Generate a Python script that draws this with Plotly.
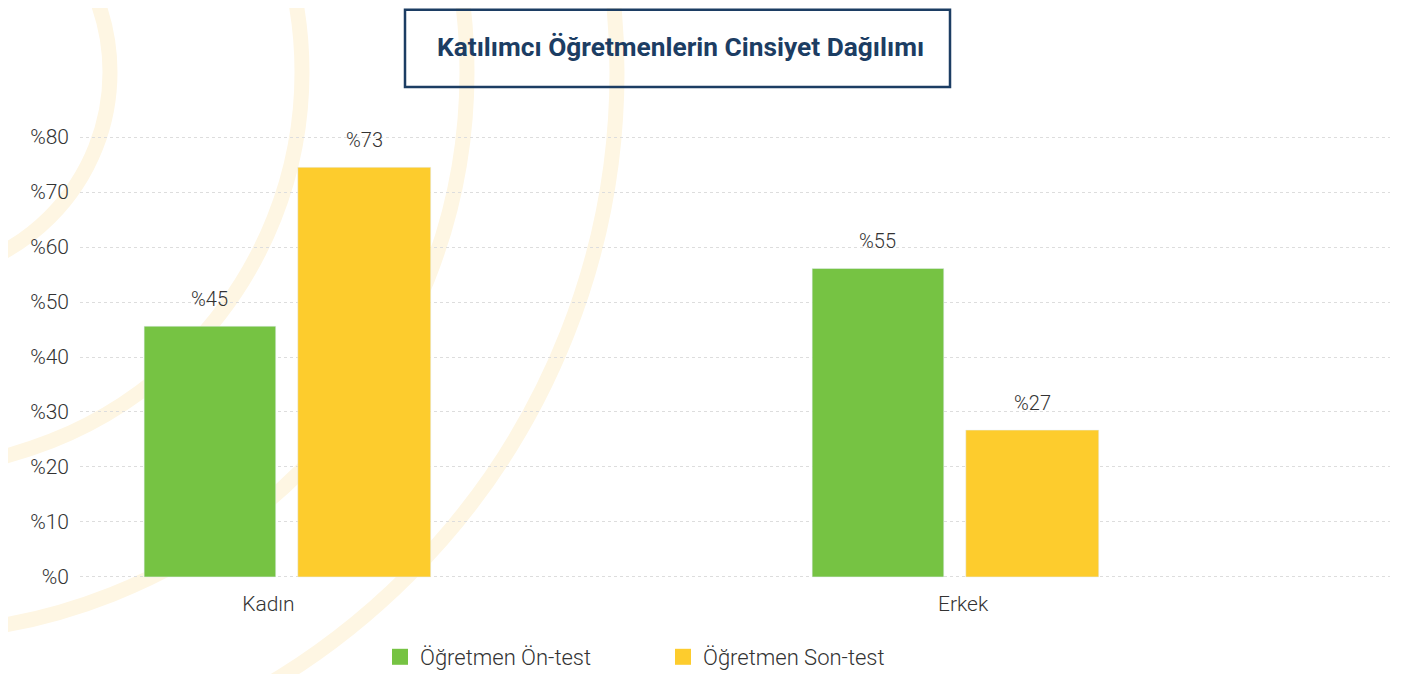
import plotly.graph_objects as go

# ---- data ----
categories = ["Kadın", "Erkek"]
series_names = ["Öğretmen Ön-test", "Öğretmen Son-test"]
on_test = [45.6, 56.1]          # bar heights as drawn
son_test = [74.5, 26.7]
on_labels = ["%45", "%55"]      # printed value labels
son_labels = ["%73", "%27"]
y_ticks = [0, 10, 20, 30, 40, 50, 60, 70, 80]
y_tick_text = ["%" + str(v) for v in y_ticks]
title_text = "Katılımcı Öğretmenlerin Cinsiyet Dağılımı"

GREEN = "#76C343"
YELLOW = "#FDCC2D"
TXT = "#333333"
NAVY = "#1C3D63"
FONT = "Roboto"

W, H = 1426, 674
OFF = 8  # page offset of the figure (body margin)
Y0, Y1 = -0.2, 80.2
# reference screen positions of the plot area
SL, SR, S80, S0 = 80, 1390, 137, 577
unit = (S0 - S80) / 80.0
top_s = S80 - (Y1 - 80) * unit
bot_s = S0 + (0 - Y0) * unit
L = SL - OFF
R = W - (SR - OFF)
T = top_s - OFF
B = H - (bot_s - OFF)
pw, ph = W - L - R, H - T - B


def px(x):
    return (x - OFF - L) / pw


def py(y):
    return (H - B - (y - OFF)) / ph


xpos = list(range(len(categories)))
W_ON, O_ON = 0.197, -0.214
W_SON, O_SON = 0.199, 0.016

fig = go.Figure()
fig.add_trace(go.Bar(x=xpos, y=on_test, name=series_names[0], marker_color=GREEN,
                     width=W_ON, offset=O_ON, showlegend=False, hoverinfo="skip"))
fig.add_trace(go.Bar(x=xpos, y=son_test, name=series_names[1], marker_color=YELLOW,
                     width=W_SON, offset=O_SON, showlegend=False, hoverinfo="skip"))
# legend entries (square swatches)
for nm, col in zip(series_names, [GREEN, YELLOW]):
    fig.add_trace(go.Scatter(x=[None], y=[None], mode="markers", name=nm,
                             marker=dict(symbol="square", size=16, color=col), showlegend=True))

annotations = []
lab_font = dict(size=20, color=TXT, family=FONT, weight=300)
for xs, ys, labs, w, o in [(xpos, on_test, on_labels, W_ON, O_ON),
                            (xpos, son_test, son_labels, W_SON, O_SON)]:
    for x, y, t in zip(xs, ys, labs):
        annotations.append(dict(x=x + o + w / 2, y=y, xref="x", yref="y", text=t,
                                showarrow=False, yanchor="bottom", xanchor="center",
                                yshift=13, font=lab_font))
annotations.append(dict(text="<b>" + title_text + "</b>", xref="paper", yref="paper",
                        x=px(680), y=py(47), xanchor="center", yanchor="middle",
                        showarrow=False, font=dict(size=26.3, color=NAVY, family=FONT)))

# decorative concentric arcs (background)
shapes = []
cx, cy = -95, 72
for r in [205, 397, 562, 712]:
    shapes.append(dict(type="circle", xref="paper", yref="paper",
                       x0=px(cx - r), x1=px(cx + r), y0=py(cy + r), y1=py(cy - r),
                       line=dict(color="#FEF6E3", width=15), layer="below"))
# title box
shapes.append(dict(type="rect", xref="paper", yref="paper",
                   x0=px(405), x1=px(950), y0=py(87), y1=py(9.5),
                   line=dict(color=NAVY, width=2.5), fillcolor="rgba(0,0,0,0)"))

fig.update_layout(
    width=W, height=H,
    margin=dict(l=L, r=R, t=T, b=B, pad=0),
    paper_bgcolor="white", plot_bgcolor="rgba(0,0,0,0)",
    font=dict(family=FONT, color=TXT, size=21),
    showlegend=True,
    legend=dict(orientation="h", xref="container", yref="container",
                x=(380 - OFF) / W, xanchor="left",
                y=1 - (657 - OFF) / H, yanchor="middle",
                font=dict(size=22, family=FONT, color=TXT, weight=300),
                entrywidth=238, entrywidthmode="pixels", itemwidth=30,
                bgcolor="rgba(0,0,0,0)"),
    shapes=shapes, annotations=annotations,
)
fig.update_xaxes(
    range=[-0.31, 1.651], tickmode="array", tickvals=[-0.028, 1.012], ticktext=categories,
    showgrid=False, zeroline=False, showline=False, ticks="", ticklabelstandoff=11,
    tickfont=dict(size=21, color=TXT, family=FONT, weight=300))
fig.update_yaxes(
    range=[Y0, Y1], tickmode="array", tickvals=y_ticks, ticktext=y_tick_text,
    showgrid=True, gridcolor="#DDDDDD", griddash="dot", gridwidth=1,
    zeroline=False, showline=False, ticks="", ticklabelstandoff=10,
    tickfont=dict(size=21, color=TXT, family=FONT, weight=300))

fig.write_html("out.html")
